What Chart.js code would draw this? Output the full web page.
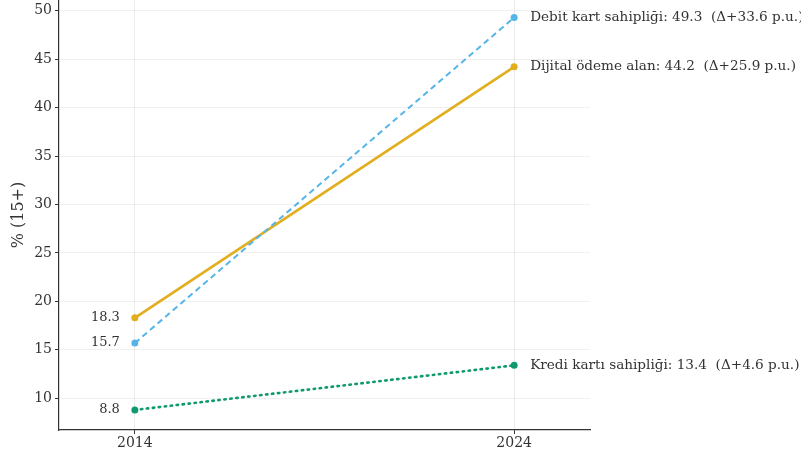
<!DOCTYPE html>
<html>
<head>
<meta charset="utf-8">
<script src="https://cdn.jsdelivr.net/npm/chart.js@4/dist/chart.umd.min.js"></script>
<style>
  html, body { margin: 0; padding: 0; background: #fff; }
  #wrap { width: 801px; height: 454px; position: relative; }
</style>
</head>
<body>
<div id="wrap"><canvas id="c" width="801" height="454"></canvas></div>
<script>
// Years compared and the share of adults (15+) for each indicator
const years = [2014, 2024];
const debitCard = [15.7, 49.3];
const digitalPayment = [18.3, 44.2];
const creditCard = [8.8, 13.4];

const seriesNames = ['Debit kart sahipliği', 'Dijital ödeme alan', 'Kredi kartı sahipliği'];
const yTicks = [10, 15, 20, 25, 30, 35, 40, 45, 50];
const xTicks = [2014, 2024];

const FONT = "'DejaVu Serif', serif";
const colors = ['#56B4E9', '#E2AE1E', '#0E9A6E'];

function pts(vals) { return vals.map((v, i) => ({ x: years[i], y: v })); }

// Start/end value labels next to each line
const endLabels = {
  id: 'endLabels',
  afterDatasetsDraw(chart) {
    const ctx = chart.ctx;
    const xs = chart.scales.x, ys = chart.scales.y;
    ctx.save();
    ctx.fillStyle = '#333';
    ctx.textBaseline = 'middle';
    chart.data.datasets.forEach((ds) => {
      const v = ds.data;
      const x0 = xs.getPixelForValue(v[0].x), y0 = ys.getPixelForValue(v[0].y);
      const x1 = xs.getPixelForValue(v[1].x), y1 = ys.getPixelForValue(v[1].y);
      ctx.font = '13px ' + FONT;
      ctx.textAlign = 'right';
      ctx.fillText(v[0].y.toFixed(1), x0 - 15, y0);
      ctx.font = '13.6px ' + FONT;
      ctx.textAlign = 'left';
      const delta = (v[1].y - v[0].y).toFixed(1);
      ctx.fillText(ds.label + ': ' + v[1].y.toFixed(1) + '  (Δ+' + delta + ' p.u.)', x1 + 16, y1);
    });
    ctx.restore();
  }
};

// Keep the plot box flush with the canvas edges we set
function noEdgePadding(s) { s.paddingTop = 0; s.paddingBottom = 0; s.paddingLeft = 0; s.paddingRight = 0; }

new Chart(document.getElementById('c'), {
  type: 'line',
  data: {
    datasets: [
      { label: seriesNames[0], data: pts(debitCard), borderColor: colors[0], backgroundColor: colors[0],
        borderWidth: 2, borderDash: [6, 4], pointRadius: 3.5, pointBorderWidth: 0 },
      { label: seriesNames[1], data: pts(digitalPayment), borderColor: colors[1], backgroundColor: colors[1],
        borderWidth: 2.6, pointRadius: 3.5, pointBorderWidth: 0 },
      { label: seriesNames[2], data: pts(creditCard), borderColor: colors[2], backgroundColor: colors[2],
        borderWidth: 2.6, borderDash: [1.5, 4.5], borderCapStyle: 'round', pointRadius: 3.5, pointBorderWidth: 0 }
    ]
  },
  options: {
    responsive: false,
    animation: false,
    layout: { autoPadding: false, padding: { top: 0, right: 211, bottom: 0, left: 0 } },
    plugins: { legend: { display: false }, tooltip: { enabled: false } },
    scales: {
      x: {
        type: 'linear', min: 2012, max: 2026,
        afterBuildTicks: (s) => { s.ticks = xTicks.map(v => ({ value: v })); },
        afterFit: (s) => { s.height = 24; noEdgePadding(s); },
        ticks: { color: '#333', font: { family: FONT, size: 14 }, padding: 1, callback: (v) => String(v) },
        grid: { color: 'rgba(0,0,0,0.07)', tickColor: '#333', tickLength: 4 },
        border: { color: '#333', width: 1.2 }
      },
      y: {
        min: 6.73, max: 51.1,
        afterBuildTicks: (s) => { s.ticks = yTicks.map(v => ({ value: v })); },
        afterFit: (s) => { s.width = 59; noEdgePadding(s); },
        ticks: { color: '#333', font: { family: FONT, size: 14 }, padding: 3 },
        grid: { color: 'rgba(0,0,0,0.06)', tickColor: '#333', tickLength: 4 },
        border: { color: '#333', width: 1.2 },
        title: { display: true, text: '% (15+)', color: '#333', font: { family: FONT, size: 16 }, padding: { top: 9, bottom: 0 } }
      }
    }
  },
  plugins: [endLabels]
});
</script>
</body>
</html>
